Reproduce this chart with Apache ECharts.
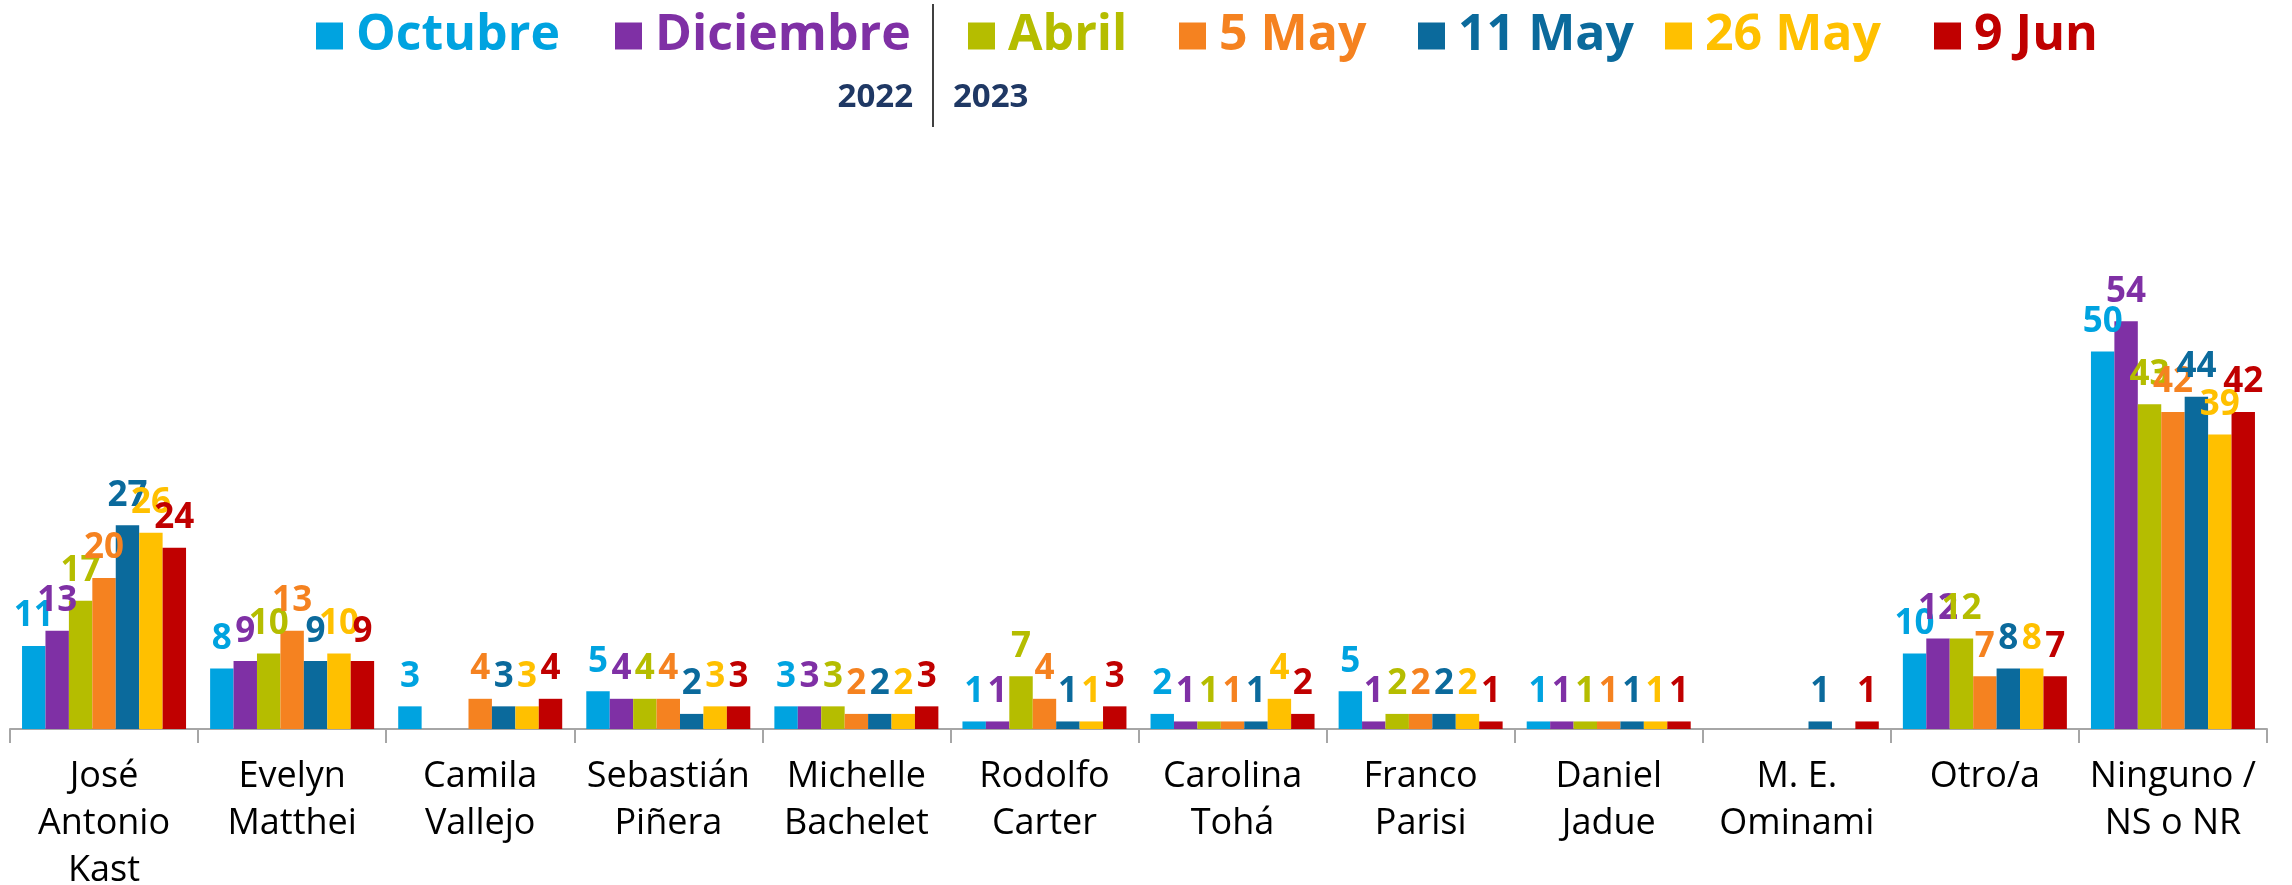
<!DOCTYPE html>
<html>
<head>
<meta charset="utf-8">
<script src="https://cdn.jsdelivr.net/npm/echarts@6/dist/echarts.min.js"></script>
<style>
html,body{margin:0;padding:0;background:#fff;}
#chart{width:2292px;height:885px;}
</style>
</head>
<body>
<div id="chart"></div>
<script>
const categories = [
  'José\nAntonio\nKast', 'Evelyn\nMatthei', 'Camila\nVallejo', 'Sebastián\nPiñera',
  'Michelle\nBachelet', 'Rodolfo\nCarter', 'Carolina\nTohá', 'Franco\nParisi',
  'Daniel\nJadue', 'M. E.\nOminami', 'Otro/a', 'Ninguno /\nNS o NR'
];
const seriesNames = ['Octubre', 'Diciembre', 'Abril', '5 May', '11 May', '26 May', '9 Jun'];
const octubre   = [11, 8, 3, 5, 3, 1, 2, 5, 1, null, 10, 50];
const diciembre = [13, 9, null, 4, 3, 1, 1, 1, 1, null, 12, 54];
const abril     = [17, 10, null, 4, 3, 7, 1, 2, 1, null, 12, 43];
const may5      = [20, 13, 4, 4, 2, 4, 1, 2, 1, null, 7, 42];
const may11     = [27, 9, 3, 2, 2, 1, 1, 2, 1, 1, 8, 44];
const may26     = [26, 10, 3, 3, 2, 1, 4, 2, 1, null, 8, 39];
const jun9      = [24, 9, 4, 3, 3, 3, 2, 1, 1, 1, 7, 42];
const yearLabels = ['2022', '2023'];

const values = [octubre, diciembre, abril, may5, may11, may26, jun9];
const colors = ['#00A3E0', '#7F30A5', '#B5BD00', '#F58220', '#0B6A9C', '#FFC000', '#C00000'];
const legendLeft = [316, 615, 968, 1179, 1418, 1665, 1934];

const FONT = "'Open Sans', sans-serif";

const chart = echarts.init(document.getElementById('chart'), null, {renderer: 'canvas'});

const legends = seriesNames.map((n, i) => ({
  data: [n],
  left: legendLeft[i],
  top: 11,
  padding: 0,
  icon: 'rect',
  itemWidth: 27,
  itemHeight: 27,
  selectedMode: false,
  textStyle: {
    color: colors[i],
    fontSize: 50,
    fontWeight: 'bold',
    fontFamily: FONT,
    padding: [0, 0, 0, 8]
  }
}));

const series = seriesNames.map((n, i) => ({
  name: n,
  type: 'bar',
  data: values[i],
  barGap: '0%',
  barCategoryGap: '12.8%',
  itemStyle: {color: colors[i]},
  label: {
    show: true,
    position: 'top',
    distance: 12,
    color: colors[i],
    fontSize: 35,
    fontWeight: 'bold',
    fontFamily: FONT
  }
}));

chart.setOption({
  animation: false,
  backgroundColor: '#ffffff',
  textStyle: {fontFamily: FONT},
  legend: legends,
  grid: {left: 10, right: 25, top: 276, bottom: 156, containLabel: false, outerBoundsMode: 'none'},
  xAxis: {
    type: 'category',
    data: categories,
    axisLine: {show: true, lineStyle: {color: '#A6A6A6', width: 2}},
    axisTick: {show: true, length: 14, lineStyle: {color: '#A6A6A6', width: 2}},
    axisLabel: {
      interval: 0,
      color: '#000000',
      fontSize: 36,
      fontFamily: FONT,
      lineHeight: 47,
      margin: 24
    }
  },
  yAxis: {
    type: 'value',
    min: 0,
    max: 60,
    show: false,
    splitLine: {show: false}
  },
  series: series,
  graphic: [
    {type: 'line', shape: {x1: 933, y1: 4, x2: 933, y2: 127}, style: {stroke: '#404040', lineWidth: 2}},
    {type: 'text', style: {x: 913, y: 98, text: yearLabels[0], align: 'right', verticalAlign: 'middle', fill: '#1F3864', font: "bold 33px 'Open Sans'"}},
    {type: 'text', style: {x: 953, y: 98, text: yearLabels[1], align: 'left', verticalAlign: 'middle', fill: '#1F3864', font: "bold 33px 'Open Sans'"}}
  ]
});
</script>
</body>
</html>
